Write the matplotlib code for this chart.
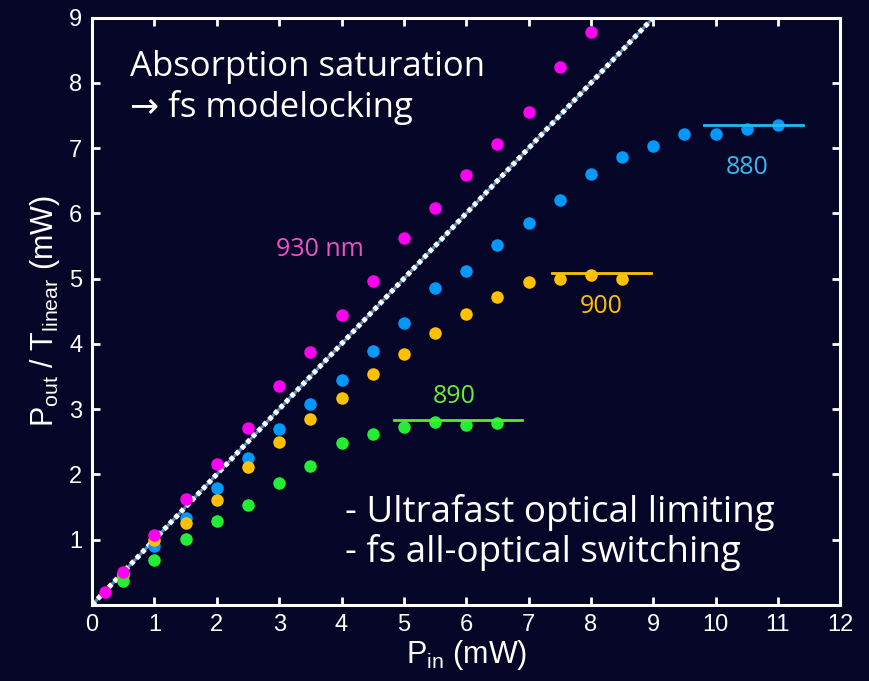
import matplotlib
matplotlib.use("Agg")
import matplotlib.pyplot as plt
import numpy as np

# ---- data ----
x930 = [0.2, 0.5, 1.0, 1.5, 2.0, 2.5, 3.0, 3.5, 4.0, 4.5, 5.0, 5.5, 6.0, 6.5, 7.0, 7.5, 8.0]
y930 = [0.19, 0.50, 1.07, 1.62, 2.15, 2.71, 3.36, 3.87, 4.44, 4.97, 5.63, 6.08, 6.59, 7.06, 7.55, 8.25, 8.78]

x880 = [0.5, 1.0, 1.5, 2.0, 2.5, 3.0, 3.5, 4.0, 4.5, 5.0, 5.5, 6.0, 6.5, 7.0, 7.5, 8.0, 8.5, 9.0, 9.5, 10.0, 10.5, 11.0]
y880 = [0.45, 0.90, 1.33, 1.79, 2.25, 2.70, 3.08, 3.44, 3.89, 4.32, 4.86, 5.12, 5.52, 5.86, 6.21, 6.61, 6.86, 7.03, 7.21, 7.22, 7.30, 7.36]

x900 = [0.5, 1.0, 1.5, 2.0, 2.5, 3.0, 3.5, 4.0, 4.5, 5.0, 5.5, 6.0, 6.5, 7.0, 7.5, 8.0, 8.5]
y900 = [0.47, 0.99, 1.26, 1.61, 2.11, 2.49, 2.84, 3.17, 3.53, 3.84, 4.17, 4.46, 4.72, 4.95, 5.00, 5.05, 5.00]

x890 = [0.5, 1.0, 1.5, 2.0, 2.5, 3.0, 3.5, 4.0, 4.5, 5.0, 5.5, 6.0, 6.5]
y890 = [0.37, 0.69, 1.01, 1.29, 1.53, 1.87, 2.13, 2.48, 2.61, 2.72, 2.80, 2.75, 2.79]

# saturation level lines: (x_start, x_end, level)
sat880 = (9.82, 11.40, 7.35)
sat900 = (7.37, 8.96, 5.08)
sat890 = (4.84, 6.90, 2.83)

linear_x = [0, 9]
linear_y = [0, 9]

xticks = list(range(0, 13))
yticks = list(range(1, 10))

# ---- style ----
BG = "#050627"
C930 = "#FF00F0"
C880 = "#0099FF"
C900 = "#FFC000"
C890 = "#22EE33"

fig = plt.figure(figsize=(8.69, 6.81), dpi=100, facecolor=BG)
ax = fig.add_axes([0.106, 0.112, 0.861, 0.862])
ax.set_facecolor(BG)

ax.plot(linear_x, linear_y, color="#4f86bf", lw=2.2, zorder=1.9)
ax.plot(linear_x, linear_y, color="white", lw=3.6, ls=(0, (0.9, 0.7)), zorder=2)

ms = 9
ax.plot(x880, y880, "o", color=C880, ms=ms, mec="none", zorder=3)
ax.plot(x900, y900, "o", color=C900, ms=ms, mec="none", zorder=3)
ax.plot(x890, y890, "o", color=C890, ms=ms, mec="none", zorder=3)
ax.plot(x930, y930, "o", color=C930, ms=ms, mec="none", zorder=4)

ax.plot(sat880[:2], [sat880[2]] * 2, color="#22BBEE", lw=2, zorder=3)
ax.plot(sat900[:2], [sat900[2]] * 2, color=C900, lw=2, zorder=3)
ax.plot(sat890[:2], [sat890[2]] * 2, color="#55EE22", lw=2, zorder=3)

tfont = ["Open Sans", "DejaVu Sans"]
ax.text(3.66, 5.44, "930 nm", color="#F050C8", fontsize=18, ha="center", va="center", family=tfont)
ax.text(10.5, 6.70, "880", color="#33BBEE", fontsize=18, ha="center", va="center", family=tfont)
ax.text(8.16, 4.57, "900", color=C900, fontsize=18, ha="center", va="center", family=tfont)
ax.text(5.8, 3.19, "890", color="#66EE33", fontsize=18, ha="center", va="center", family=tfont)

ax.text(0.6, 8.5, "Absorption saturation\n\u2192 fs modelocking", color="white", fontsize=25,
        ha="left", va="top", family=tfont, linespacing=1.2)
ax.text(4.05, 1.70, "- Ultrafast optical limiting\n- fs all-optical switching", color="white",
        fontsize=26.5, ha="left", va="top", family=tfont, linespacing=1.1)

ax.set_xlim(0, 12)
ax.set_ylim(0, 9)
ax.set_xticks(xticks)
ax.set_yticks(yticks)
ax.tick_params(direction="in", length=6, width=2, colors="white", top=True, right=True,
               labelsize=17, pad=7)
for lab in ax.get_xticklabels() + ax.get_yticklabels():
    lab.set_family("Liberation Sans")
for s in ax.spines.values():
    s.set_color("white")
    s.set_linewidth(2.2)

ax.set_xlabel(r"P$_{\mathregular{in}}$ (mW)", color="white", fontsize=22, family="Liberation Sans", labelpad=1)
ax.set_ylabel(r"P$_{\mathregular{out}}$ / T$_{\mathregular{linear}}$ (mW)", color="white", fontsize=22,
              family="Liberation Sans", labelpad=5)

fig.savefig("out.png", dpi=100, facecolor=BG)
